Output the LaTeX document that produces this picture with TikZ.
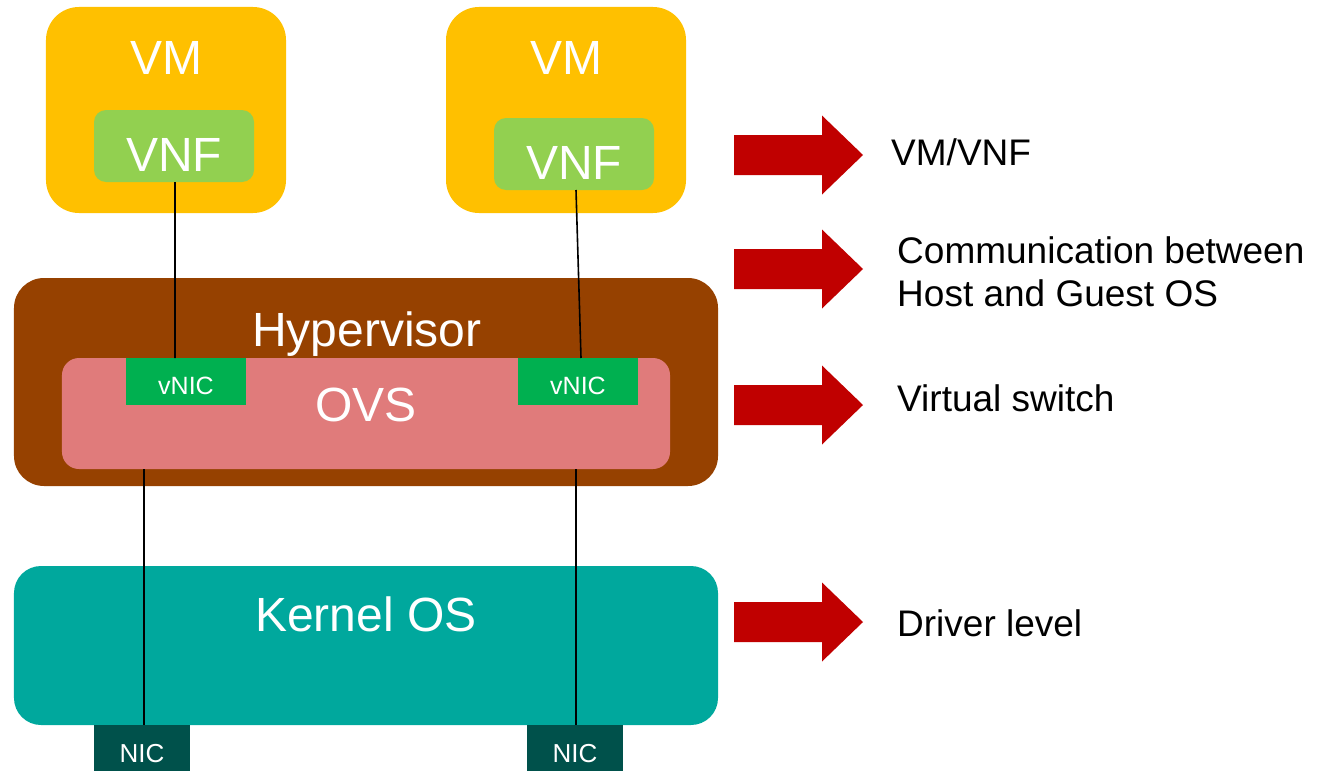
\documentclass[tikz,border=0pt]{standalone}
\usepackage{fontspec}
\setmainfont{Liberation Sans}
\definecolor{vmyellow}{HTML}{FFC000}
\definecolor{vnfgreen}{HTML}{92D050}
\definecolor{hypbrown}{HTML}{964100}
\definecolor{ovspink}{HTML}{E07B7B}
\definecolor{vnicgreen}{HTML}{00B050}
\definecolor{kernelteal}{HTML}{00A89D}
\definecolor{nicdark}{HTML}{00514B}
\definecolor{arrowred}{HTML}{C00000}
\begin{document}
\begin{tikzpicture}[x=1bp, y=-1bp,
  box/.style={rectangle, inner sep=0pt, outer sep=0pt, draw=none},
  big/.style={text=white, font=\fontsize{48bp}{58bp}\selectfont, inner sep=0pt, anchor=base},
  small/.style={text=white, font=\fontsize{25bp}{30bp}\selectfont, inner sep=0pt, anchor=base},
  side/.style={text=black, font=\fontsize{37bp}{43bp}\selectfont, inner sep=0pt, anchor=base west},
  wire/.style={draw=black, line width=1.6bp},
  redarrow/.pic={\fill[arrowred] (0,-20) -- (88,-20) -- (88,-39.5) -- (129,0) -- (88,39.5) -- (88,20) -- (0,20) -- cycle;}]
\useasboundingbox (0,0) rectangle (1327,771);

% virtual machines
\node[box, fill=vmyellow, rounded corners=33bp, minimum width=240bp, minimum height=206bp] (vm1) at (166,110) {};
\node[box, fill=vmyellow, rounded corners=33bp, minimum width=240bp, minimum height=206bp] (vm2) at (566,110) {};
\node[big] (vm1t) at (166,74) {VM};
\node[big] (vm2t) at (566,74) {VM};
\node[box, fill=vnfgreen, rounded corners=12bp, minimum width=160bp, minimum height=72bp] (vnf1) at (174,146) {};
\node[box, fill=vnfgreen, rounded corners=12bp, minimum width=160bp, minimum height=72bp] (vnf2) at (574,154) {};
\node[big] (vnf1t) at (174,171) {VNF};
\node[big] (vnf2t) at (574,179) {VNF};

% hypervisor with the virtual switch
\node[box, fill=hypbrown, rounded corners=30bp, minimum width=704bp, minimum height=208bp] (hyp) at (366,382) {};
\node[big] (hypt) at (367,346) {Hypervisor};
\node[box, fill=ovspink, rounded corners=17bp, minimum width=608bp, minimum height=111bp] (ovs) at (366,413.5) {};
\node[big] (ovst) at (366,421) {OVS};
\node[box, fill=vnicgreen, minimum width=120bp, minimum height=47bp] (vnic1) at (186,381.5) {};
\node[box, fill=vnicgreen, minimum width=120bp, minimum height=47bp] (vnic2) at (578,381.5) {};
\node[small] (vnic1t) at (186,394) {vNIC};
\node[small] (vnic2t) at (578,394) {vNIC};

% kernel and physical NICs
\node[box, fill=kernelteal, rounded corners=27bp, minimum width=704bp, minimum height=159bp] (kern) at (366,645.5) {};
\node[big] (kernt) at (366,631) {Kernel OS};
\node[box, fill=nicdark, minimum width=96bp, minimum height=46bp] (nic1) at (142,748) {};
\node[box, fill=nicdark, minimum width=96bp, minimum height=46bp] (nic2) at (575,748) {};
\node[small, font=\fontsize{26bp}{30bp}\selectfont] (nic1t) at (142,762) {NIC};
\node[small, font=\fontsize{26bp}{30bp}\selectfont] (nic2t) at (575,762) {NIC};

% links
\draw[wire] ([xshift=1bp]vnf1.south) -- ([xshift=-11bp]vnic1.north);
\draw[wire] ([xshift=2bp]vnf2.south) -- ([xshift=3bp]vnic2.north);
\draw[wire] (ovs.south -| nic1.north) ++(2bp,0) -- ([xshift=2bp]nic1.north);
\draw[wire] (ovs.south -| nic2.north) ++(1bp,0) -- ([xshift=1bp]nic2.north);

% layer legend
\pic at (734,155) {redarrow};
\pic at (734,269) {redarrow};
\pic at (734,405) {redarrow};
\pic at (734,622) {redarrow};
\node[side] (l1) at (891,165) {VM/VNF};
\node[side] (l2) at (897,263) {Communication between};
\node[side] (l3) at (897,306) {Host and Guest OS};
\node[side] (l4) at (897,411) {Virtual switch};
\node[side] (l5) at (897,636) {Driver level};
\end{tikzpicture}
\end{document}
